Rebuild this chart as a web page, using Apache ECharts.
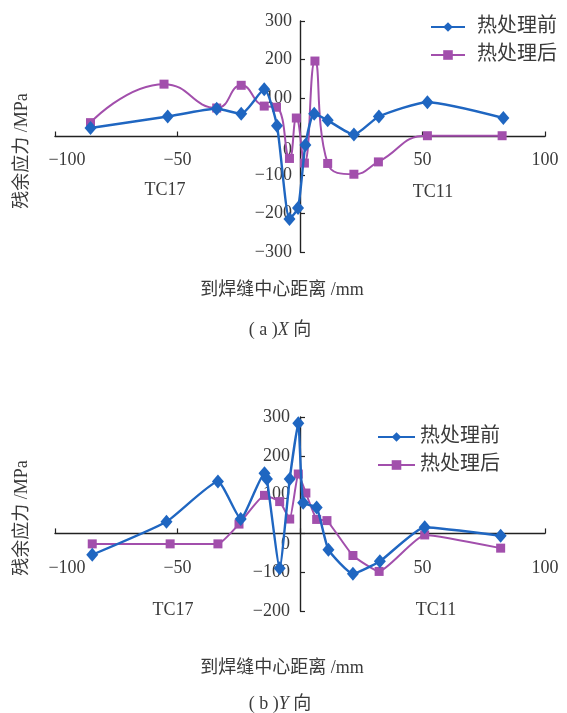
<!DOCTYPE html>
<html>
<head>
<meta charset="utf-8">
<script src="https://cdn.jsdelivr.net/npm/echarts@6/dist/echarts.min.js"></script>
<style>html,body{margin:0;padding:0;background:#fff}#c{width:567px;height:713px}</style>
</head>
<body>
<div id="c"></div>
<script>
// ---- data ----
const seriesNames = ['热处理前', '热处理后'];
const xTickValues = [-100, -50, 0, 50, 100];

// (a) X direction
const distXBefore  = [-85.5, -54, -34, -24, -14.6, -9.4, -4.3, -0.8, 2.2, 5.8, 11.3, 22, 32.2, 52, 83];
const stressXBefore = [22, 52, 72, 59, 123, 28, -214, -186, -22, 59, 42, 5, 52, 89, 48];
const distXAfter   = [-85.5, -55.5, -34, -24, -14.6, -9.6, -4.3, -1.5, 1.8, 6.1, 11.3, 22, 32, 52, 82.5];
const stressXAfter  = [36, 136, 74, 133, 79, 76, -57, 48, -69, 196, -70, -98, -66, 2, 2];

// (b) Y direction
const distYBefore  = [-84.8, -54.5, -33.5, -24.2, -14.5, -13.5, -8.3, -4.2, -0.7, 1.3, 6.8, 11.6, 21.6, 32.6, 50.9, 81.9];
const stressYBefore = [-55, 30, 134, 37, 155, 140, -90, 140, 284, 79, 67, -42, -104, -72, 16, -6];
const distYAfter   = [-84.8, -53, -33.5, -24.9, -14.5, -8.3, -4.2, -0.7, 2.4, 6.8, 11, 21.6, 32.3, 50.9, 81.9];
const stressYAfter  = [-27, -27, -27, 24, 98, 82, 37, 153, 104, 36, 33, -57, -98, -4, -38];

function zip(a, b) { return a.map((v, i) => [v, b[i]]); }

const BLUE = '#1f66c1';
const PURPLE = '#a24fac';
const TXT = '#3a3a3a';
const SERIF = '"Liberation Serif", "Noto Sans CJK SC", serif';

// grid geometry
const G = [
  { left: 55, right: 22, top: 21, height: 231, ymin: -300, ymax: 300 },
  { left: 55, right: 22, top: 417, height: 194, ymin: -200, ymax: 300 }
];
const PLOT_W = 567 - 55 - 22;

function minus(v) { return String(v).replace('-', '\u2212'); }

function xAxisCfg(gi, margin) {
  const g = G[gi];
  // move the axis (line, ticks, labels) up to the y = 0 level
  const zeroFromBottom = g.height * (0 - g.ymin) / (g.ymax - g.ymin);
  return {
    type: 'value', gridIndex: gi, min: -100, max: 100, interval: 50,
    position: 'bottom', offset: -zeroFromBottom,
    axisLine: { onZero: false, lineStyle: { color: '#222', width: 1.4 } },
    axisTick: { inside: true, length: 5, lineStyle: { color: '#222', width: 1.2 } },
    splitLine: { show: false },
    axisLabel: {
      margin, fontSize: 18, color: TXT, fontFamily: SERIF,
      formatter: v => v === 0 ? '' : (v === -100 ? '{l|' + minus(v) + '}' : minus(v)),
      rich: { l: { padding: [0, 0, 0, 24], fontSize: 18, color: TXT, fontFamily: SERIF } }
    }
  };
}
function yAxisCfg(gi, margin, zeroPad) {
  const g = G[gi];
  return {
    type: 'value', gridIndex: gi, min: g.ymin, max: g.ymax, interval: 100,
    position: 'left', offset: -PLOT_W / 2,
    axisLine: { onZero: false, lineStyle: { color: '#222', width: 1.4 } },
    axisTick: { inside: true, length: 5, lineStyle: { color: '#222', width: 1.2 } },
    splitLine: { show: false },
    axisLabel: {
      margin, fontSize: 18, color: TXT, fontFamily: SERIF,
      formatter: v => v === 0 ? '{z|0}' : minus(v),
      rich: { z: { padding: [zeroPad, 0, 0, 0], fontSize: 18, color: TXT, fontFamily: SERIF } }
    }
  };
}
function lineSeries(name, data, idx, color, symbol, size, width, smooth) {
  return {
    name, type: 'line', xAxisIndex: idx, yAxisIndex: idx, data,
    symbol, symbolSize: size, smooth,
    lineStyle: { color, width }, itemStyle: { color },
    z: name === seriesNames[0] ? 3 : 2
  };
}
function txt(x, y, text, size, rot) {
  return {
    type: 'text', x, y, rotation: rot || 0,
    style: { text, fontSize: size || 18, fill: TXT, fontFamily: SERIF, align: 'center', verticalAlign: 'middle',
      rich: { i: { fontStyle: 'italic', fontSize: size || 18, fill: TXT, fontFamily: SERIF } } }
  };
}

const chart = echarts.init(document.getElementById('c'));
chart.setOption({
  backgroundColor: '#fff',
  animation: false,
  grid: G.map(g => ({ left: g.left, right: g.right, top: g.top, height: g.height })),
  xAxis: [xAxisCfg(0, 15), xAxisCfg(1, 26)],
  yAxis: [yAxisCfg(0, 8, 28), yAxisCfg(1, 10, 21)],
  legend: [
    { orient: 'vertical', left: 425, top: 12, itemGap: 8, itemWidth: 34, itemHeight: 12,
      data: seriesNames, textStyle: { fontSize: 20, color: TXT, fontFamily: SERIF, padding: [0, 0, 0, 7] } },
    { orient: 'vertical', left: 372, top: 422, itemGap: 8, itemWidth: 37, itemHeight: 12,
      data: seriesNames, textStyle: { fontSize: 20, color: TXT, fontFamily: SERIF } }
  ],
  series: [
    lineSeries(seriesNames[1], zip(distXAfter, stressXAfter), 0, PURPLE, 'rect', 9, 2, 0.5),
    lineSeries(seriesNames[0], zip(distXBefore, stressXBefore), 0, BLUE, 'diamond', [12, 14], 2.4, 0.2),
    lineSeries(seriesNames[1], zip(distYAfter, stressYAfter), 1, PURPLE, 'rect', 9, 2, 0.15),
    lineSeries(seriesNames[0], zip(distYBefore, stressYBefore), 1, BLUE, 'diamond', [12, 14], 2.4, 0.15)
  ],
  graphic: [
    txt(22, 151, '残余应力 /MPa', 18, Math.PI / 2),
    txt(22, 518, '残余应力 /MPa', 18, Math.PI / 2),
    txt(165, 190, 'TC17'),
    txt(433, 192, 'TC11'),
    txt(173, 610, 'TC17'),
    txt(436, 610, 'TC11'),
    txt(282, 290, '到焊缝中心距离 /mm'),
    txt(282, 668, '到焊缝中心距离 /mm'),
    txt(280, 330, '( a ){i|X} 向'),
    txt(280, 704, '( b ){i|Y} 向')
  ]
});
</script>
</body>
</html>
